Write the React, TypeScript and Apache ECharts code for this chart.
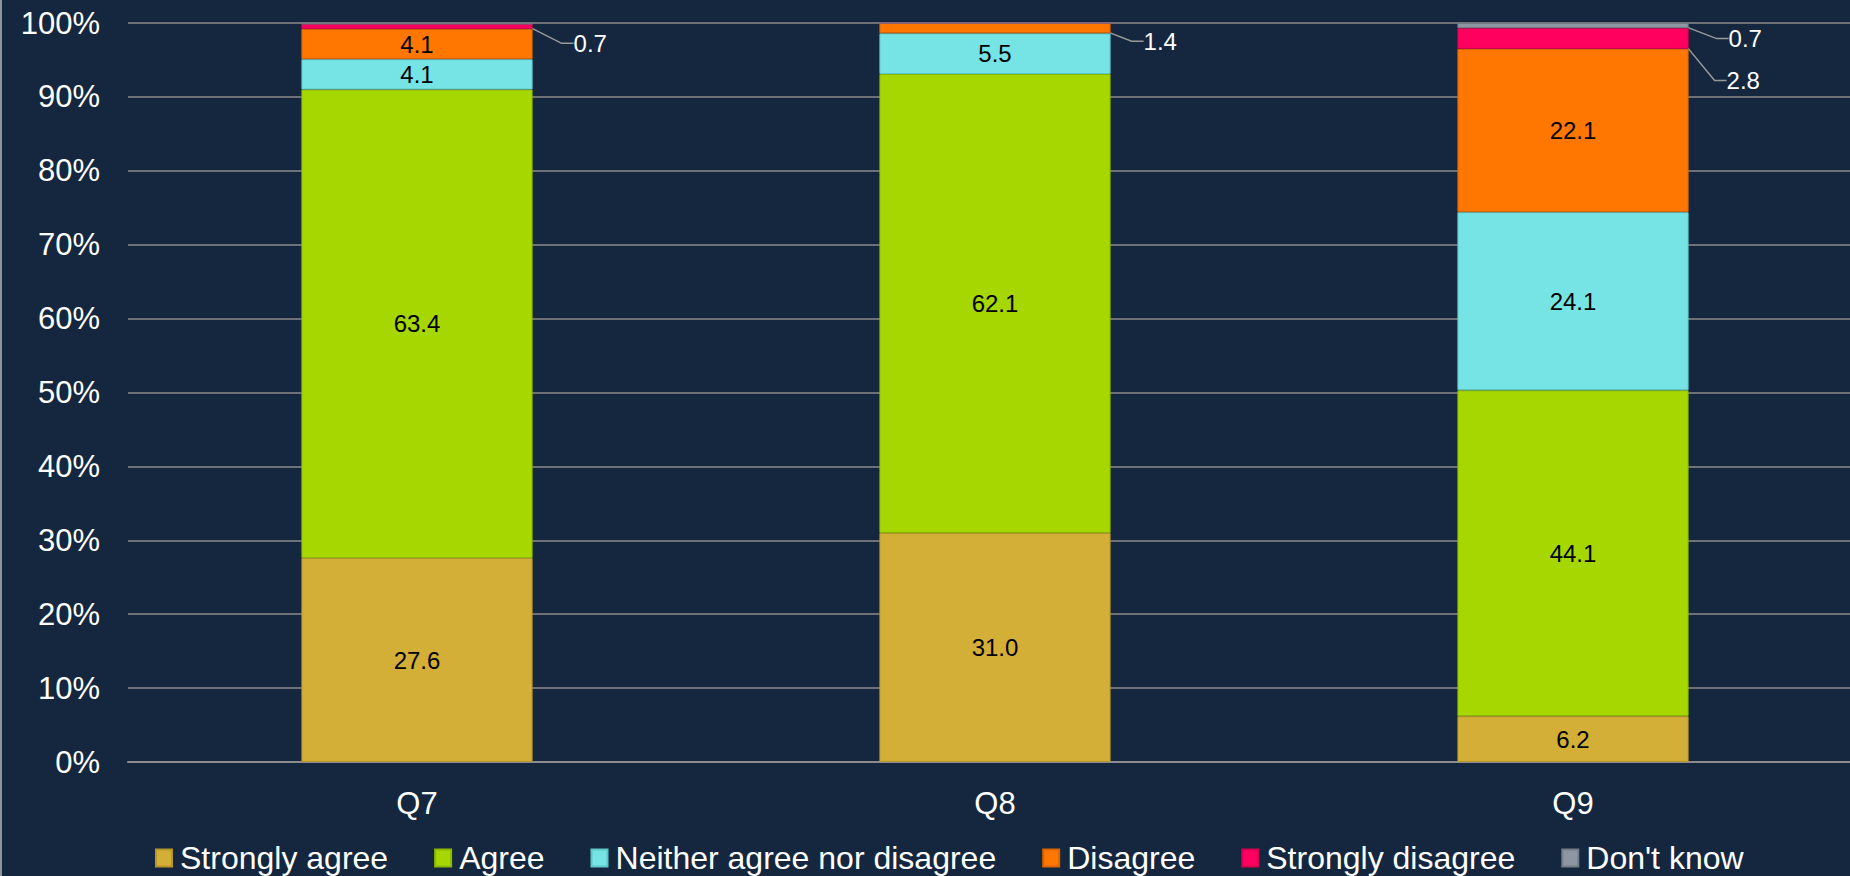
import React, { useEffect, useRef } from "react";
import * as echarts from "echarts";

const categories = ["Q7", "Q8", "Q9"];
const seriesNames = [
  "Strongly agree",
  "Agree",
  "Neither agree nor disagree",
  "Disagree",
  "Strongly disagree",
  "Don't know",
];
const stronglyAgree = [27.6, 31.0, 6.2];
const agree = [63.4, 62.1, 44.1];
const neither = [4.1, 5.5, 24.1];
const disagree = [4.1, 1.4, 22.1];
const stronglyDisagree = [0.7, 0, 2.8];
const dontKnow = [0, 0, 0.7];
const yTicks = [0, 10, 20, 30, 40, 50, 60, 70, 80, 90, 100];

const seriesValues = [stronglyAgree, agree, neither, disagree, stronglyDisagree, dontKnow];
const colors = ["#D4AF37", "#A6D700", "#76E4E4", "#FF7700", "#FF005F", "#8D96A3"];
const borders = ["#B8962A", "#8DB800", "#5CC8C8", "#D96500", "#D90050", "#737C88"];

// label offsets for small outside labels: key "series-dataIndex" -> [dx, dy]
const outsideOffsets: Record<string, [number, number]> = {
  "4-0": [36, 17],
  "3-1": [28, 13],
  "5-2": [35, 13],
  "4-2": [33, 42],
};

const FONT = "Arial, 'Liberation Sans', sans-serif";

export default function App() {
  const ref = useRef<HTMLDivElement>(null);
  useEffect(() => {
    if (!ref.current) return;
    const chart = echarts.init(ref.current, undefined, { renderer: "svg" });
    const series = seriesNames.map((name, si) => ({
      name,
      type: "bar",
      stack: "total",
      barWidth: "40%",
      itemStyle: { color: colors[si], borderColor: borders[si], borderWidth: 1 },
      data: seriesValues[si].map((v) => {
        const small = v > 0 && v < 3;
        if (v <= 0) {
          return { value: v, label: { show: false } };
        }
        if (small) {
          return {
            value: v,
            label: {
              show: true,
              position: "right",
              distance: 5,
              color: "#FFFFFF",
              fontSize: 24,
              fontFamily: FONT,
              formatter: (p: any) => Number(p.value).toFixed(1),
            },
            labelLine: {
              show: true,
              length2: 12,
              lineStyle: { color: "#9A9A9A", width: 1.5 },
            },
          };
        }
        return {
          value: v,
          label: {
            show: true,
            position: "inside",
            color: "#000000",
            fontSize: 24,
            fontFamily: FONT,
            formatter: (p: any) => Number(p.value).toFixed(1),
          },
        };
      }),
      labelLayout: (params: any) => {
        const key = `${params.seriesIndex}-${params.dataIndex}`;
        const off = outsideOffsets[key];
        if (off) return { dx: off[0], dy: off[1] };
        return {};
      },
    }));

    chart.setOption({
      animation: false,
      backgroundColor: "#14273F",
      textStyle: { fontFamily: FONT },
      graphic: [
        {
          type: "rect",
          left: 0,
          top: 0,
          shape: { width: 2, height: 876 },
          style: { fill: "#8E9299" },
          silent: true,
        },
      ],
      legend: {
        data: seriesNames,
        left: 150,
        top: 837,
        icon: "rect",
        itemWidth: 16,
        itemHeight: 17,
        itemGap: 46,
        textStyle: {
          color: "#FFFFFF",
          fontSize: 32,
          fontFamily: FONT,
          padding: [0, 0, 0, 3],
        },
      },
      grid: {
        left: 128,
        top: 23,
        width: 1734,
        bottom: 114,
        containLabel: false,
        outerBoundsMode: "none",
      },
      xAxis: {
        type: "category",
        data: categories,
        axisTick: { show: false },
        axisLine: { lineStyle: { color: "#8C8C8C", width: 2 } },
        axisLabel: { color: "#FFFFFF", fontSize: 31, fontFamily: FONT, margin: 26 },
      },
      yAxis: {
        type: "value",
        min: yTicks[0],
        max: yTicks[yTicks.length - 1],
        interval: yTicks[1] - yTicks[0],
        axisLine: { show: false },
        axisTick: { show: false },
        axisLabel: {
          color: "#FFFFFF",
          fontSize: 31,
          fontFamily: FONT,
          margin: 28,
          formatter: "{value}%",
        },
        splitLine: { lineStyle: { color: "#8C8C8C", width: 1.5 } },
      },
      series,
    });
    return () => chart.dispose();
  }, []);
  return (
    <div
      ref={ref}
      style={{ position: "fixed", left: 0, top: 0, width: 1850, height: 876 }}
    />
  );
}
